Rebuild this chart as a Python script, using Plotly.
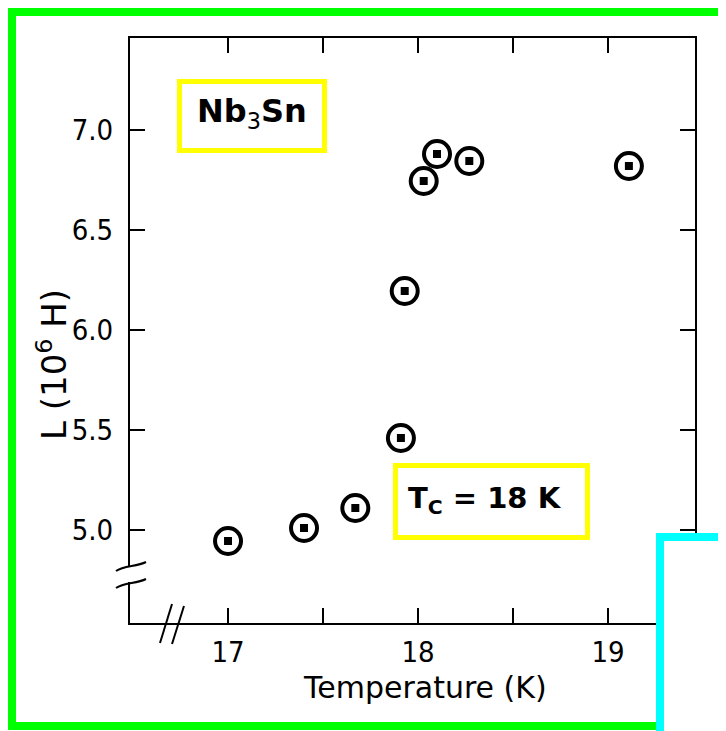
import plotly.graph_objects as go

# ---- data ----
temperature_K = [17.0, 17.40, 17.67, 17.91, 17.93, 18.03, 18.10, 18.27, 19.11]
inductance = [4.945, 5.01, 5.11, 5.46, 6.195, 6.745, 6.88, 6.845, 6.82]

x_tickvals = [17.0, 18.0, 19.0]
x_ticktext = ["17", "18", "19"]
x_minor_tickvals = [17.5, 18.5]
y_tickvals = [5.0, 5.5, 6.0, 6.5, 7.0]
y_ticktext = ["5.0", "5.5", "6.0", "6.5", "7.0"]
x_title = "Temperature (K)"
y_title = "L (10<sup>6</sup> H)"

OFF = 8  # page body margin
W, H = 726 - OFF, 731 - OFF
L, T = 130 - OFF, 38 - OFF
R = 726 - 695
B = 731 - 623
PW, PH = W - L - R, H - T - B


def px(x):
    return (x - OFF - L) / PW


def py(y):
    return (H - B - (y - OFF)) / PH


fig = go.Figure()
fig.add_trace(go.Scatter(
    x=temperature_K, y=inductance, mode="markers",
    marker=dict(symbol="circle", size=26, color="white",
                line=dict(color="black", width=4)),
    hoverinfo="skip", showlegend=False))
fig.add_trace(go.Scatter(
    x=temperature_K, y=inductance, mode="markers",
    marker=dict(symbol="square", size=8, color="black"),
    hoverinfo="skip", showlegend=False))

font = "DejaVu Sans"
tickfont = "DejaVu Sans Condensed, DejaVu Sans"
axis_common = dict(showline=True, linecolor="black", linewidth=2, mirror="ticks",
                   ticks="inside", ticklen=15, tickwidth=2, tickcolor="black",
                   showgrid=False, zeroline=False,
                   tickfont=dict(family=tickfont, size=29, color="black"))

fig.update_xaxes(range=[16.484, 19.458], tickvals=x_tickvals, ticktext=x_ticktext,
                 minor=dict(tickvals=x_minor_tickvals, ticks="inside", ticklen=15,
                            tickwidth=2, tickcolor="black", showgrid=False),
                 ticklabelstandoff=2, **axis_common)
fig.update_yaxes(range=[4.535, 7.46], tickvals=y_tickvals, ticktext=y_ticktext,
                 ticklabelstandoff=9, **axis_common)

shapes = []
# y-axis break
shapes.append(dict(type="rect", xref="paper", yref="paper",
                   x0=px(124), x1=px(136), y0=py(582), y1=py(567),
                   fillcolor="white", line=dict(width=0)))
for (ya, yb) in [(571, 562), (588, 579)]:
    shapes.append(dict(type="path", xref="paper", yref="paper",
                       path=f"M {px(116)},{py(ya)} C {px(124)},{py(ya-6)} {px(136)},{py(yb+5)} {px(146)},{py(yb)}",
                       line=dict(color="black", width=2)))
# x-axis break
for (xa, ya, xb, yb) in [(172, 604, 160, 643), (184, 606, 172, 644)]:
    shapes.append(dict(type="line", xref="paper", yref="paper",
                       x0=px(xa), y0=py(ya), x1=px(xb), y1=py(yb),
                       line=dict(color="black", width=2)))
# yellow label boxes
shapes.append(dict(type="rect", xref="paper", yref="paper",
                   x0=px(179.5), x1=px(324.5), y0=py(150.5), y1=py(81.5),
                   line=dict(color="#ffff00", width=5)))
shapes.append(dict(type="rect", xref="paper", yref="paper",
                   x0=px(395.5), x1=px(587.5), y0=py(537.5), y1=py(465.5),
                   line=dict(color="#ffff00", width=5)))
# green frame
shapes.append(dict(type="rect", xref="paper", yref="paper",
                   x0=px(12), x1=px(760), y0=py(726), y1=py(12),
                   line=dict(color="#00ff00", width=8)))
# cyan box
shapes.append(dict(type="rect", xref="paper", yref="paper",
                   x0=px(660), x1=px(780), y0=py(790), y1=py(537),
                   fillcolor="white", line=dict(color="#00ffff", width=8)))

annotations = [
    dict(text="<b>Nb</b><sub>3</sub><b>Sn</b>", xref="paper", yref="paper",
         x=px(252), y=py(113), xanchor="center", yanchor="middle", showarrow=False,
         font=dict(family=font, size=32, color="black")),
    dict(text="<b>T<sub>C</sub> = 18 K</b>", xref="paper", yref="paper",
         x=px(485), y=py(500), xanchor="center", yanchor="middle", showarrow=False,
         font=dict(family=font, size=29, color="black")),
    dict(text=x_title, xref="paper", yref="paper",
         x=px(425), y=py(687), xanchor="center", yanchor="middle", showarrow=False,
         font=dict(family=font, size=30, color="black")),
    dict(text=y_title, xref="paper", yref="paper", textangle=-90,
         x=px(52), y=py(365), xanchor="center", yanchor="middle", showarrow=False,
         font=dict(family=font, size=34, color="black")),
]

fig.update_layout(width=W, height=H, margin=dict(l=L, r=R, t=T, b=B),
                  paper_bgcolor="white", plot_bgcolor="white",
                  shapes=shapes, annotations=annotations, showlegend=False)

fig.write_html("out.html")
